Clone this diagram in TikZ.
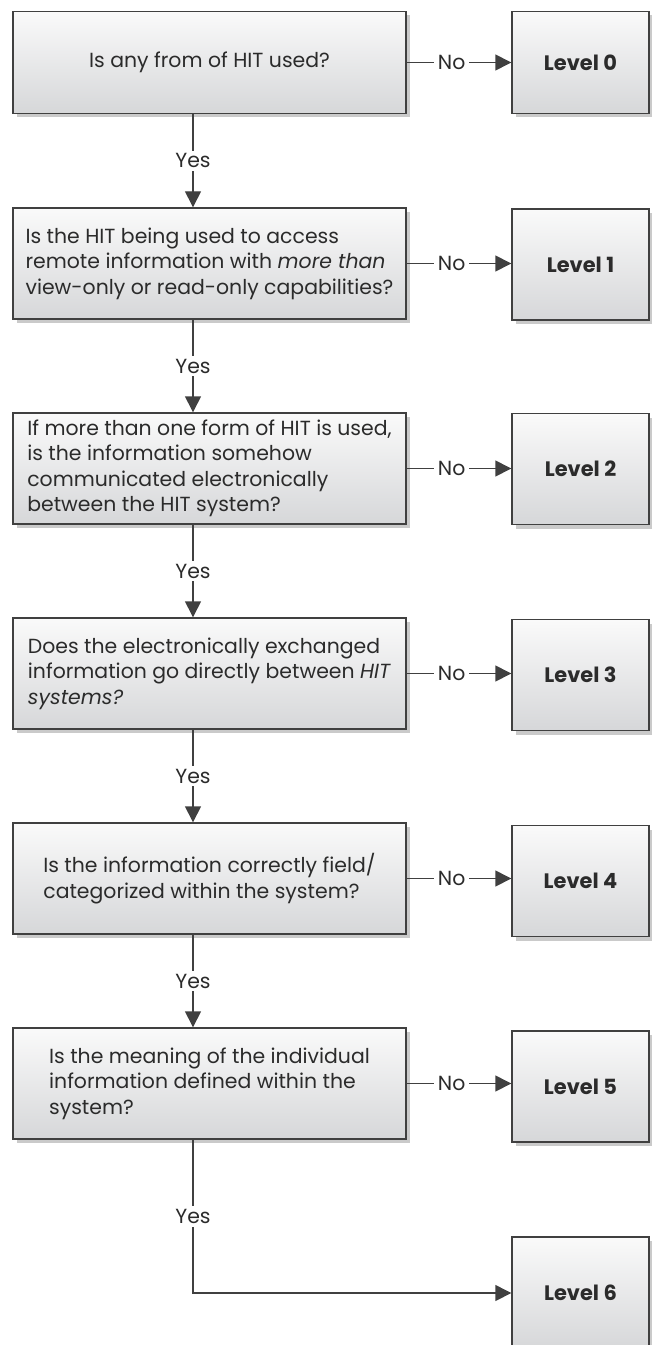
\documentclass[tikz,border=0pt]{standalone}
\usepackage{fontspec}
\setmainfont{Poppins}
\usetikzlibrary{arrows.meta,shadows}
\definecolor{flowline}{HTML}{404040}
\definecolor{flowtext}{HTML}{2B2B2B}
\definecolor{boxtop}{HTML}{FAFAFA}
\definecolor{boxbottom}{HTML}{D6D7D9}
\definecolor{shadowgray}{HTML}{CACACA}

\begin{document}
\begin{tikzpicture}[x=1bp,y=-1bp,font=\fontsize{20.5}{25.5}\selectfont,text=flowtext,
 question/.style={rectangle,draw=flowline,line width=1.4bp,top color=boxtop,bottom color=boxbottom,minimum width=393bp,minimum height=111bp,align=left,
  drop shadow={shadow xshift=4bp,shadow yshift=-4bp,fill=shadowgray,opacity=1}},
 level/.style={question,minimum width=137bp,font=\fontsize{21}{24}\selectfont\bfseries},
 link/.style={draw=flowline,line width=1.4bp,-{Triangle[length=16bp,width=16bp]}},
 answer/.style={fill=white,inner xsep=4bp,inner ysep=3bp}]
\useasboundingbox (0,0) rectangle (652,1345);
\clip (0,0) rectangle (652,1345);
% questions
\node[question,minimum height=102bp,align=center] (hitused) at (209.5,62.5) {Is any from of HIT used?};
\node[question] (remote) at (209.5,263.5) {Is the HIT being used to access\\remote information with \textit{more than}\\view-only or read-only capabilities?};
\node[question] (exchange) at (209.5,468.5) {If more than one form of HIT is used,\\is the information somehow\\communicated electronically\\between the HIT system?};
\node[question] (direct) at (209.5,673.5) {Does the electronically exchanged\\information go directly between \textit{HIT}\\\textit{systems?}};
\node[question] (fielded) at (209.5,878.5) {Is the information correctly field/\\categorized within the system?};
\node[question] (meaning) at (209.5,1083.5) {Is the meaning of the individual\\information defined within the\\system?};
% levels
\node[level,minimum height=102bp] (lvl0) at (580.5,62.5) {Level 0};
\node[level] (lvl1) at (580.5,264.5) {Level 1};
\node[level] (lvl2) at (580.5,469) {Level 2};
\node[level] (lvl3) at (580.5,675) {Level 3};
\node[level] (lvl4) at (580.5,881) {Level 4};
\node[level] (lvl5) at (580.5,1086.5) {Level 5};
\node[level,minimum height=112bp] (lvl6) at (580.5,1293) {Level 6};
% no branches
\draw[link] (hitused) -- node[answer,pos=0.43]{No} (hitused -| lvl0.west);
\draw[link] (remote) -- node[answer,pos=0.43]{No} (remote -| lvl1.west);
\draw[link] (exchange) -- node[answer,pos=0.43]{No} (exchange -| lvl2.west);
\draw[link] (direct) -- node[answer,pos=0.43]{No} (direct -| lvl3.west);
\draw[link] (fielded) -- node[answer,pos=0.43]{No} (fielded -| lvl4.west);
\draw[link] (meaning) -- node[answer,pos=0.43]{No} (meaning -| lvl5.west);
% yes branches
\draw[link] ([xshift=-16.5bp]hitused.south) -- node[answer]{Yes} ([xshift=-16.5bp]remote.north);
\draw[link] ([xshift=-16.5bp]remote.south) -- node[answer]{Yes} ([xshift=-16.5bp]exchange.north);
\draw[link] ([xshift=-16.5bp]exchange.south) -- node[answer]{Yes} ([xshift=-16.5bp]direct.north);
\draw[link] ([xshift=-16.5bp]direct.south) -- node[answer]{Yes} ([xshift=-16.5bp]fielded.north);
\draw[link] ([xshift=-16.5bp]fielded.south) -- node[answer]{Yes} ([xshift=-16.5bp]meaning.north);
\draw[link] ([xshift=-16.5bp]meaning.south) |- node[answer,pos=0.25]{Yes} (lvl6);
\end{tikzpicture}
\end{document}
